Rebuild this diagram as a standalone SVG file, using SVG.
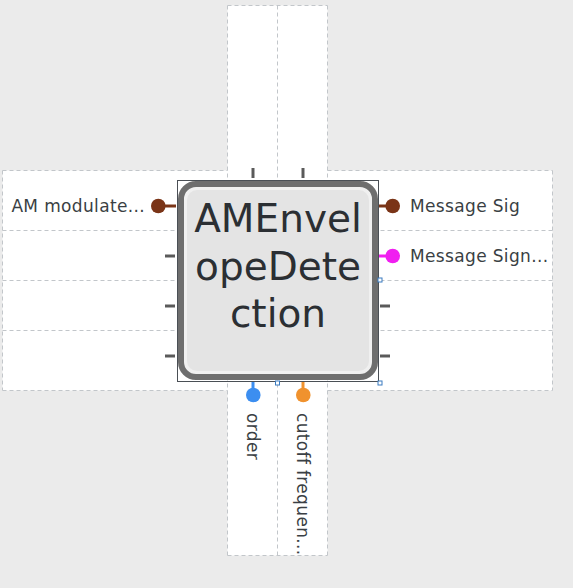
<svg xmlns="http://www.w3.org/2000/svg" width="573" height="588" viewBox="0 0 573 588">
<style>
.band{fill:#ffffff;stroke:#c2c6ca;stroke-width:1;stroke-dasharray:4 3}
.div{stroke:#c2c6ca;stroke-width:1;stroke-dasharray:4 3;fill:none}
.stub{stroke:#5a5a5a;stroke-width:3}
.lbl{font-family:"DejaVu Sans",Verdana,sans-serif;font-size:17px;letter-spacing:0.35px;fill:#3a3f44}
.title{font-family:"DejaVu Sans",Verdana,sans-serif;font-size:39px;fill:#2b2f33;text-anchor:middle}
.handle{fill:#ffffff;stroke:#3a7bc0;stroke-width:1}
</style>
<rect x="0" y="0" width="573" height="588" fill="#ebebeb"/>
<g id="bands">
<rect x="2.5" y="170.5" width="550" height="220" fill="#ffffff"/>
<rect x="227.5" y="5.5" width="100" height="550" fill="#ffffff"/>
<line class="div" x1="2.5" y1="170.5" x2="227.5" y2="170.5"/>
<line class="div" x1="327.5" y1="170.5" x2="552.5" y2="170.5"/>
<line class="div" x1="2.5" y1="390.5" x2="227.5" y2="390.5"/>
<line class="div" x1="327.5" y1="390.5" x2="552.5" y2="390.5"/>
<line class="div" x1="2.5" y1="170.5" x2="2.5" y2="390.5"/>
<line class="div" x1="552.5" y1="170.5" x2="552.5" y2="390.5"/>
<line class="div" x1="227.5" y1="5.5" x2="227.5" y2="555.5"/>
<line class="div" x1="327.5" y1="5.5" x2="327.5" y2="555.5"/>
<line class="div" x1="277.5" y1="5.5" x2="277.5" y2="555.5"/>
<line class="div" x1="227.5" y1="5.5" x2="327.5" y2="5.5"/>
<line class="div" x1="227.5" y1="555.5" x2="327.5" y2="555.5"/>
<line class="div" x1="2.5" y1="230.5" x2="552.5" y2="230.5"/>
<line class="div" x1="2.5" y1="280.5" x2="552.5" y2="280.5"/>
<line class="div" x1="2.5" y1="330.5" x2="552.5" y2="330.5"/>
</g>
<g id="connectors">
<line class="stub" x1="253" y1="168" x2="253" y2="178"/>
<line class="stub" x1="303" y1="168" x2="303" y2="178"/>
<line class="stub" x1="165" y1="256" x2="175" y2="256"/>
<line class="stub" x1="165" y1="306" x2="175" y2="306"/>
<line class="stub" x1="165" y1="356" x2="175" y2="356"/>
<line class="stub" x1="380" y1="306" x2="390" y2="306"/>
<line class="stub" x1="380" y1="356" x2="390" y2="356"/>
</g>
<g id="node-AMEnvelopeDetection">
<rect x="177.5" y="180.5" width="201" height="201" fill="none" stroke="#4a4f55" stroke-width="1"/>
<rect x="181" y="184" width="194" height="193" rx="15" fill="#f0f0f0" stroke="#6e6e6e" stroke-width="6"/>
<rect x="187" y="190" width="182" height="181" rx="10" fill="#e4e4e4"/>
<text class="title" x="278" y="231.5">AMEnvel</text>
<text class="title" x="278" y="280">opeDete</text>
<text class="title" x="278" y="327">ction</text>
<rect class="handle" x="378" y="278" width="4" height="4"/>
<rect class="handle" x="275.5" y="381" width="4" height="4"/>
<rect class="handle" x="378" y="381" width="4" height="4"/>
</g>
<g id="port-am-modulated">
<line x1="158" y1="206" x2="176" y2="206" stroke="#7a3417" stroke-width="3"/>
<circle cx="158.3" cy="206" r="7.3" fill="#7a3417"/>
<text class="lbl" x="145" y="211.5" text-anchor="end">AM modulate...</text>
</g>
<g id="port-message-sig">
<line x1="379" y1="206" x2="392" y2="206" stroke="#7a3417" stroke-width="3"/>
<circle cx="392.7" cy="206" r="7.3" fill="#7a3417"/>
<text class="lbl" x="410" y="211.5">Message Sig</text>
</g>
<g id="port-message-sign">
<line x1="379" y1="256" x2="392" y2="256" stroke="#f01ff0" stroke-width="3"/>
<circle cx="392.7" cy="256" r="7.3" fill="#f01ff0"/>
<text class="lbl" x="410" y="261.5">Message Sign...</text>
</g>
<g id="port-order">
<line x1="253" y1="382" x2="253" y2="395" stroke="#3c8ef0" stroke-width="3"/>
<circle cx="253.3" cy="395" r="7.3" fill="#3c8ef0"/>
<text class="lbl" transform="translate(247,413) rotate(90)">order</text>
</g>
<g id="port-cutoff">
<line x1="303" y1="382" x2="303" y2="395" stroke="#f0922e" stroke-width="3"/>
<circle cx="303.3" cy="395" r="7.3" fill="#f0922e"/>
<text class="lbl" transform="translate(297,413) rotate(90)">cutoff frequen...</text>
</g>
</svg>
